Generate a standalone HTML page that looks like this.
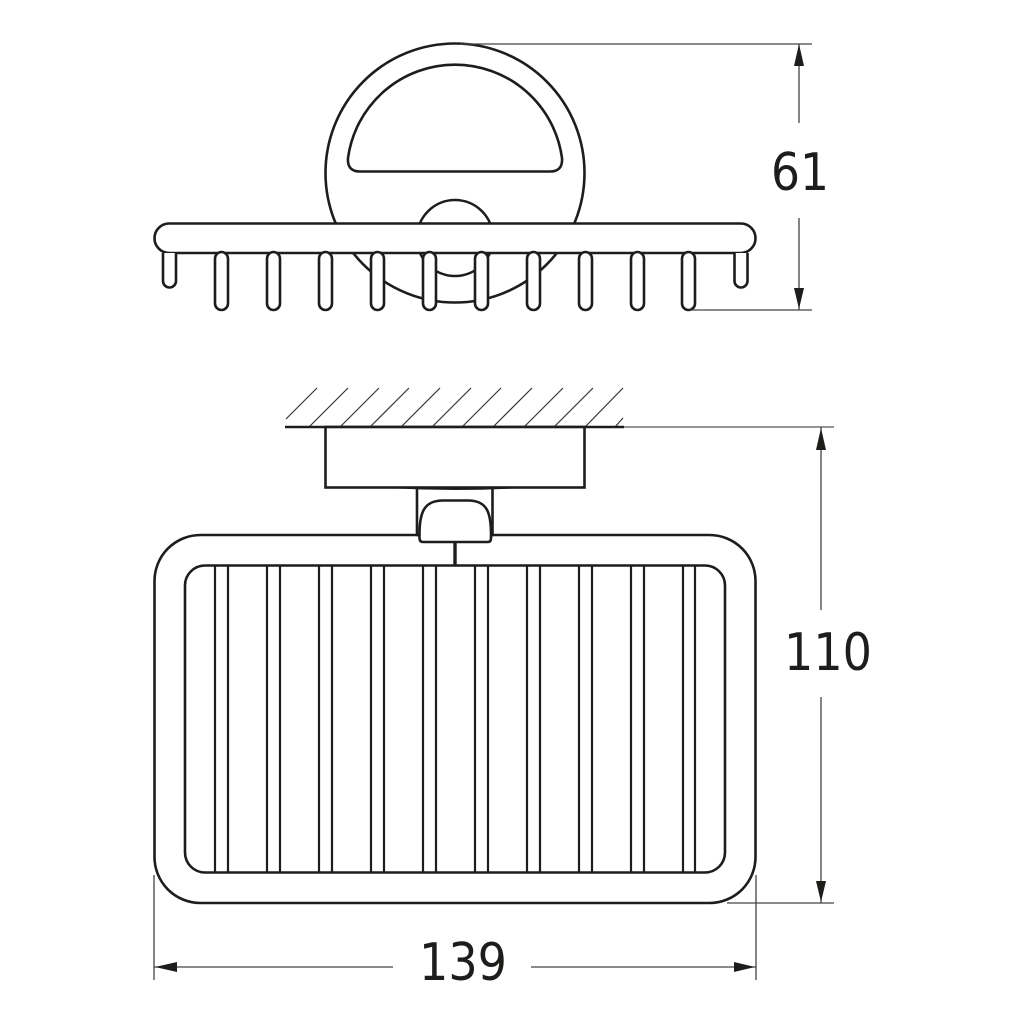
<!DOCTYPE html>
<html><head><meta charset="utf-8"><style>html,body{margin:0;padding:0;background:#fff}svg{display:block}text{font-family:"DejaVu Sans",sans-serif;font-size:52px;fill:#1d1d1b}</style></head><body>
<svg width="1024" height="1024" viewBox="0 0 1024 1024" xmlns="http://www.w3.org/2000/svg">
<rect width="1024" height="1024" fill="#fff"/>
<!-- top view -->
<g fill="none" stroke="#1d1d1b" stroke-width="2.600">
<circle cx="455" cy="173" r="129.500"/>
<path d="M360 171.500H550Q563 171.500 562 158A108 108 0 0 0 348 158Q347 171.500 360 171.500Z"/>
<circle cx="455" cy="238" r="38"/>
<rect x="154.500" y="223.500" width="601" height="29.500" rx="14.700" fill="#fff"/>
</g>
<g fill="#fff" stroke="#1d1d1b" stroke-width="2.600">
<path d="M163 253V281A6.500 6.500 0 0 0 176 281V253" />
<path d="M734.500 253V281A6.500 6.500 0 0 0 747.500 281V253" />
<rect x="215" y="252" width="13" height="58" rx="6.500"/>
<rect x="267" y="252" width="13" height="58" rx="6.500"/>
<rect x="319" y="252" width="13" height="58" rx="6.500"/>
<rect x="371" y="252" width="13" height="58" rx="6.500"/>
<rect x="423" y="252" width="13" height="58" rx="6.500"/>
<rect x="475" y="252" width="13" height="58" rx="6.500"/>
<rect x="527" y="252" width="13" height="58" rx="6.500"/>
<rect x="579" y="252" width="13" height="58" rx="6.500"/>
<rect x="631" y="252" width="13" height="58" rx="6.500"/>
<rect x="682" y="252" width="13" height="58" rx="6.500"/>
</g>
<!-- hatch -->
<g stroke="#333" stroke-width="1.200" fill="none">
<path d="M286 419L317 388M309 427L348 388M340 427L379 388M370 427L409 388M401 427L440 388M432 427L471 388M462 427L501 388M493 427L532 388M524 427L563 388M554 427L593 388M585 427L623 388M615 427L623 418"/>
</g>
<path d="M285 427H624" stroke="#1d1d1b" stroke-width="2.600" fill="none"/>
<path d="M624 427H834" stroke="#555" stroke-width="1.200" fill="none"/>
<!-- basket -->
<g fill="none" stroke="#1d1d1b" stroke-width="2.600">
<rect x="154.500" y="535" width="601" height="368" rx="46"/>
<rect x="185" y="565.500" width="540" height="307" rx="20"/>
<path d="M215 565V872M228 565V872M267 565V872M280 565V872M319 565V872M332 565V872M371 565V872M384 565V872M423 565V872M436 565V872M475 565V872M488 565V872M527 565V872M540 565V872M579 565V872M592 565V872M631 565V872M644 565V872M683 565V872M695 565V872" stroke-width="2.200"/>
<path d="M417 487V535H492.500V487" fill="#fff"/>
<rect x="325.500" y="427" width="259" height="60.500" fill="#fff"/>
<path d="M419.500 538C419 512 424 500.500 443 500.500H468C487 500.500 491.500 512 491 538Q491 542 488 542H423Q419.500 542 419.500 538Z" fill="#fff"/>
<path d="M455 542V565" stroke-width="3.400"/>
<path d="M392 487.500Q455 491 518 487.500" stroke-width="1.600"/>
</g>
<!-- dimensions -->
<g stroke="#444" stroke-width="1.300" fill="none">
<path d="M460 44H812M690 310H812M799 44V123M799 218V310"/>
<path d="M821 427V610M821 697V903M727 903H834"/>
<path d="M154 875V980M756 875V980M154 967H393M531 967H756"/>
</g>
<g fill="#1d1d1b">
<path d="M799 44L804 66H794Z"/>
<path d="M799 309L804 288H794Z"/>
<path d="M821 428L826 450H816Z"/>
<path d="M821 902L826 881H816Z"/>
<path d="M155 967L177 962V972Z"/>
<path d="M755 967L734 962V972Z"/>
</g>
<text x="771" y="190" textLength="58" lengthAdjust="spacingAndGlyphs">61</text>
<text x="784" y="670" textLength="88" lengthAdjust="spacingAndGlyphs">110</text>
<text x="419" y="980" textLength="88" lengthAdjust="spacingAndGlyphs">139</text>
</svg>
</body></html>
